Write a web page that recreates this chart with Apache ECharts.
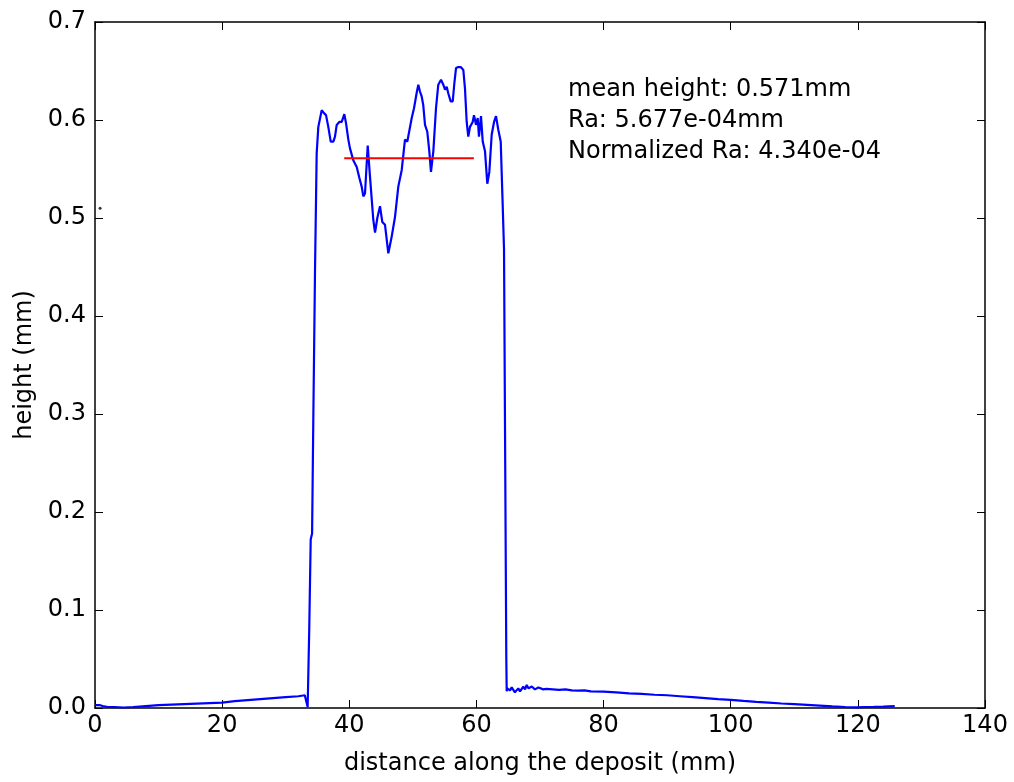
<!DOCTYPE html>
<html>
<head>
<meta charset="utf-8">
<script src="https://cdn.jsdelivr.net/npm/echarts@6/dist/echarts.min.js"></script>
<style>
  html, body { margin: 0; padding: 0; background: #ffffff; }
  #chart { width: 1014px; height: 782px; }
</style>
</head>
<body>
<div id="chart"></div>
<script>
// Height profile measured along the deposit (mm)
const distanceMm = [
  0, 0.3, 0.7, 1.2, 2.0, 3.0, 4.5, 6, 8, 10, 12, 14, 16, 18, 20, 22, 24, 26, 28, 30, 32, 33.0, 33.2, 33.45, 33.7,
  33.93, 34.15, 34.35, 34.61, 34.87, 35.13, 35.66, 36.02, 36.34, 36.70, 37.08, 37.49, 37.75, 38.02, 38.43, 38.81,
  39.22, 39.48, 39.85, 40.11, 40.38, 40.63, 41.17, 41.58, 41.95, 42.21, 42.47, 42.90, 43.26, 43.78, 44.05, 44.41,
  44.83, 45.19, 45.62, 46.14, 46.67, 47.19, 47.71, 48.25, 48.76, 49.13, 49.82, 50.18, 50.61, 50.86, 51.12, 51.39,
  51.64, 51.91, 52.27, 52.59, 52.85, 53.22, 53.64, 54.00, 54.43, 54.79, 55.06, 55.32, 55.58, 55.95, 56.27, 56.52,
  56.79, 57.15, 57.53, 57.94, 58.20, 58.47, 58.72, 58.99, 59.41, 59.62, 59.93, 60.20, 60.40, 60.72, 60.99, 61.35,
  61.71, 62.03, 62.40, 62.77, 63.08, 63.44, 63.82, 64.10, 64.34, 64.45, 64.70, 64.76, 64.86, 65.28, 65.55, 65.80,
  66.05, 66.34, 66.59, 66.85, 67.12, 67.37, 67.65, 67.91, 68.20, 68.43, 68.70, 68.95, 69.20, 69.48, 69.75, 70.00,
  70.52, 71, 72, 73, 74, 75, 76, 77, 78, 80, 82, 84, 86, 88, 90, 92, 94, 96, 98, 100, 102, 104, 106, 108, 110,
  112, 114, 116, 118, 119.8, 121, 122.5, 124, 125.8
];
const heightMm = [
  0.003, 0.004, 0.003, 0.002, 0.001, 0.001, 0.0005, 0.001, 0.002, 0.003, 0.0035, 0.004, 0.0045, 0.005, 0.0055,
  0.007, 0.008, 0.009, 0.010, 0.011, 0.012, 0.013, 0.011, 0.001, 0.080,
  0.172, 0.178, 0.300, 0.447, 0.566, 0.593, 0.610, 0.607, 0.605, 0.593, 0.578, 0.578, 0.583, 0.595, 0.598, 0.598,
  0.606, 0.597, 0.580, 0.571, 0.573, 0.559, 0.552, 0.541, 0.532, 0.522, 0.525, 0.574, 0.542, 0.498, 0.485, 0.500,
  0.512, 0.496, 0.493, 0.464, 0.481, 0.501, 0.532, 0.549, 0.580, 0.578, 0.602, 0.612, 0.628, 0.636, 0.629, 0.624,
  0.615, 0.595, 0.588, 0.568, 0.547, 0.568, 0.612, 0.636, 0.641, 0.636, 0.631, 0.634, 0.627, 0.619, 0.619, 0.637,
  0.653, 0.654, 0.654, 0.651, 0.632, 0.598, 0.583, 0.593, 0.598, 0.605, 0.595, 0.602, 0.583, 0.604, 0.578, 0.568,
  0.535, 0.547, 0.585, 0.598, 0.604, 0.590, 0.578, 0.520, 0.468, 0.466, 0.050, 0.017, 0.020, 0.018, 0.021, 0.0217,
  0.016, 0.018, 0.020, 0.017, 0.015, 0.0217, 0.019, 0.0235, 0.020, 0.0201, 0.022, 0.021, 0.019, 0.020, 0.021, 0.020,
  0.019, 0.0195, 0.019, 0.0185, 0.019, 0.018, 0.0178, 0.018, 0.017, 0.0167, 0.016, 0.015, 0.0145, 0.0135, 0.013,
  0.012, 0.011, 0.010, 0.009, 0.0082, 0.0072, 0.0063, 0.0055, 0.0046, 0.004, 0.0032, 0.0024, 0.0016, 0.001,
  0.0007, 0.001, 0.0012, 0.0015, 0.002
];

// Reference level drawn across the top of the deposit
const levelStartMm = 39.2;
const levelEndMm = 59.6;
const levelHeightMm = 0.561;

// Stray single point near the left edge
const strayPoint = [0.8, 0.51];

const xTicks = [0, 20, 40, 60, 80, 100, 120, 140];
const yTicks = [0.0, 0.1, 0.2, 0.3, 0.4, 0.5, 0.6, 0.7];

const statsLines = [
  'mean height: 0.571mm',
  'Ra: 5.677e-04mm',
  'Normalized Ra: 4.340e-04'
];

const FONT = 'DejaVu Sans';
const FONT_SIZE = 24;
const profile = distanceMm.map((d, i) => [d, heightMm[i]]);

const chart = echarts.init(document.getElementById('chart'), null, { renderer: 'canvas' });

const xBase = {
  type: 'value',
  min: xTicks[0],
  max: xTicks[xTicks.length - 1],
  interval: xTicks[1] - xTicks[0],
  splitLine: { show: false },
  axisLine: { show: true, onZero: false, lineStyle: { color: '#000', width: 1.5 } },
  axisTick: { show: true, inside: true, length: 8, lineStyle: { color: '#000', width: 1 } }
};
const yBase = {
  type: 'value',
  min: yTicks[0],
  max: yTicks[yTicks.length - 1],
  interval: 0.1,
  splitLine: { show: false },
  axisLine: { show: true, onZero: false, lineStyle: { color: '#000', width: 1.5 } },
  axisTick: { show: true, inside: true, length: 8, lineStyle: { color: '#000', width: 1 } }
};

chart.setOption({
  animation: false,
  backgroundColor: '#ffffff',
  grid: { left: 95, right: 29, top: 22, bottom: 74, containLabel: false },
  xAxis: [
    Object.assign({}, xBase, {
      position: 'bottom',
      name: 'distance along the deposit (mm)',
      nameLocation: 'middle',
      nameGap: 44,
      nameTextStyle: { fontFamily: FONT, fontSize: FONT_SIZE, color: '#000' },
      axisLabel: { show: true, margin: 6, fontFamily: FONT, fontSize: FONT_SIZE, color: '#000',
        formatter: v => String(v) }
    }),
    Object.assign({}, xBase, { position: 'top', axisLabel: { show: false } })
  ],
  yAxis: [
    Object.assign({}, yBase, {
      position: 'left',
      name: 'height (mm)',
      nameLocation: 'middle',
      nameGap: 58,
      nameTextStyle: { fontFamily: FONT, fontSize: FONT_SIZE, color: '#000' },
      axisLabel: { show: true, margin: 9, fontFamily: FONT, fontSize: FONT_SIZE, color: '#000',
        formatter: v => v.toFixed(1) }
    }),
    Object.assign({}, yBase, { position: 'right', axisLabel: { show: false } })
  ],
  series: [
    {
      type: 'line',
      data: profile,
      showSymbol: false,
      lineStyle: { color: '#0000ff', width: 2.2 },
      z: 3
    },
    {
      type: 'line',
      data: [[levelStartMm, levelHeightMm], [levelEndMm, levelHeightMm]],
      showSymbol: false,
      lineStyle: { color: '#ff0000', width: 2 },
      z: 4
    },
    {
      type: 'scatter',
      data: [strayPoint],
      symbolSize: 3,
      itemStyle: { color: '#000' },
      z: 5
    }
  ],
  graphic: [
    {
      type: 'text',
      left: 568,
      top: 74,
      style: {
        text: statsLines.join('\n'),
        font: FONT_SIZE + 'px "DejaVu Sans"',
        lineHeight: 31,
        fill: '#000'
      }
    }
  ]
});
</script>
</body>
</html>
